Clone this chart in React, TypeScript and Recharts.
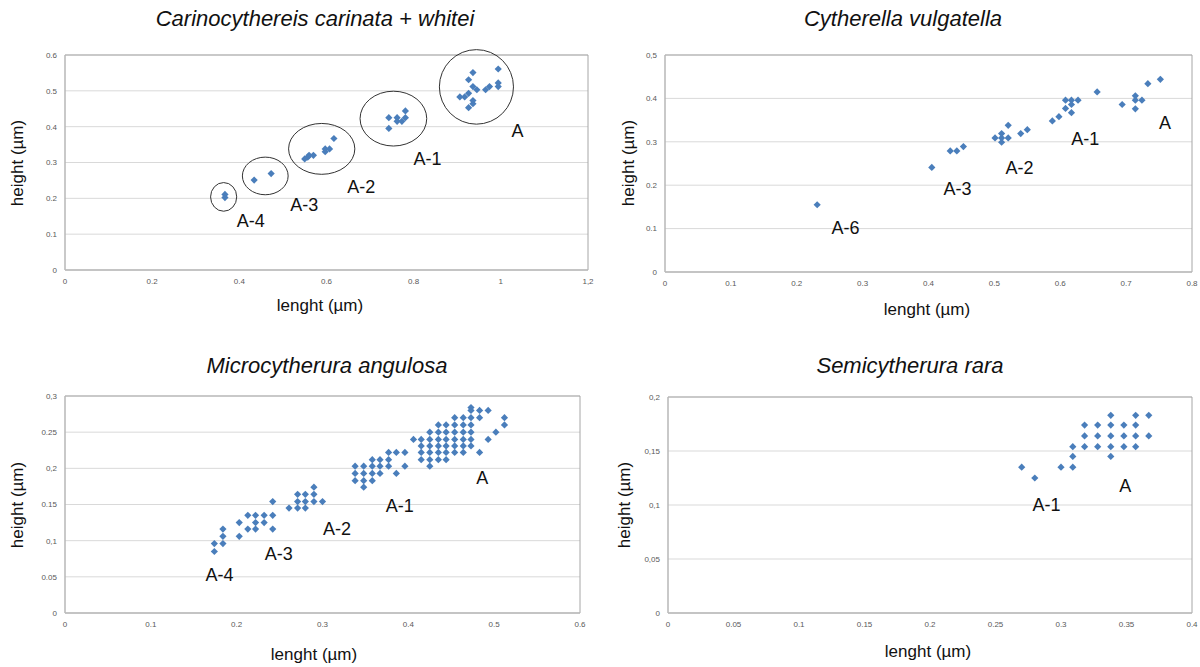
import React from 'react';
import { ScatterChart, Scatter, XAxis, YAxis, CartesianGrid, ReferenceArea } from 'recharts';

// ---- data ----

const titles = ['Carinocythereis carinata + whitei', 'Cytherella vulgatella', 'Microcytherura angulosa', 'Semicytherura rara'];
const xAxisTitle = 'lenght (µm)';
const yAxisTitle = 'height (µm)';

const carinataPoints = [
    [0.367, 0.211], [0.367, 0.202],
    [0.434, 0.251], [0.473, 0.269],
    [0.55, 0.31], [0.557, 0.315], [0.56, 0.32], [0.57, 0.32], [0.597, 0.33], [0.597, 0.338], [0.607, 0.338], [0.617, 0.367],
    [0.743, 0.425], [0.743, 0.395], [0.762, 0.425], [0.762, 0.415], [0.773, 0.415], [0.781, 0.425], [0.781, 0.444],
    [0.906, 0.483], [0.917, 0.483], [0.926, 0.493], [0.926, 0.531], [0.936, 0.551], [0.936, 0.512], [0.945, 0.503],
    [0.926, 0.453], [0.936, 0.464], [0.936, 0.473], [0.965, 0.503], [0.974, 0.512], [0.994, 0.561], [0.994, 0.522], [0.994, 0.512],
];
const carinataRings = [
    { x1: 0.334, x2: 0.394, y1: 0.164, y2: 0.244 },
    { x1: 0.407, x2: 0.512, y1: 0.21, y2: 0.315 },
    { x1: 0.513, x2: 0.665, y1: 0.267, y2: 0.409 },
    { x1: 0.677, x2: 0.83, y1: 0.346, y2: 0.499 },
    { x1: 0.859, x2: 1.029, y1: 0.407, y2: 0.615 },
];
const carinataLabels = [
    { x: 0.426, y: 0.138, text: 'A-4' },
    { x: 0.549, y: 0.182, text: 'A-3' },
    { x: 0.68, y: 0.232, text: 'A-2' },
    { x: 0.832, y: 0.311, text: 'A-1' },
    { x: 1.038, y: 0.387, text: 'A' },
];
const carinataXTicks = [0, 0.2, 0.4, 0.6, 0.8, 1, 1.2];
const carinataXTickLabels = ['0', '0.2', '0.4', '0.6', '0.8', '1', '1,2'];
const carinataYTicks = [0, 0.1, 0.2, 0.3, 0.4, 0.5, 0.6];
const carinataYTickLabels = ['0', '0.1', '0.2', '0.3', '0.4', '0.5', '0.6'];

const vulgatellaPoints = [
    [0.231, 0.155], [0.405, 0.241], [0.433, 0.279], [0.443, 0.279], [0.453, 0.289],
    [0.501, 0.309], [0.511, 0.299], [0.511, 0.309], [0.511, 0.319], [0.521, 0.309], [0.521, 0.338],
    [0.54, 0.319], [0.55, 0.328], [0.588, 0.348], [0.598, 0.358], [0.608, 0.377], [0.608, 0.396],
    [0.617, 0.396], [0.617, 0.386], [0.617, 0.367], [0.627, 0.396], [0.656, 0.415], [0.694, 0.386],
    [0.714, 0.376], [0.714, 0.396], [0.714, 0.406], [0.724, 0.396], [0.733, 0.434], [0.752, 0.444],
];
const vulgatellaLabels = [
    { x: 0.274, y: 0.101, text: 'A-6' },
    { x: 0.444, y: 0.191, text: 'A-3' },
    { x: 0.538, y: 0.239, text: 'A-2' },
    { x: 0.638, y: 0.306, text: 'A-1' },
    { x: 0.759, y: 0.344, text: 'A' },
];
const vulgatellaXTicks = [0, 0.1, 0.2, 0.3, 0.4, 0.5, 0.6, 0.7, 0.8];
const vulgatellaXTickLabels = ['0', '0.1', '0.2', '0.3', '0.4', '0.5', '0.6', '0.7', '0.8'];
const vulgatellaYTicks = [0, 0.1, 0.2, 0.3, 0.4, 0.5];
const vulgatellaYTickLabels = ['0', '0.1', '0.2', '0.3', '0.4', '0,5'];

const angulosaPoints = [
    [0.174, 0.096], [0.174, 0.085],
    [0.184, 0.116], [0.184, 0.106], [0.184, 0.096],
    [0.203, 0.125], [0.203, 0.106],
    [0.213, 0.135], [0.213, 0.116],
    [0.222, 0.135], [0.222, 0.125], [0.222, 0.116],
    [0.232, 0.135], [0.232, 0.125],
    [0.242, 0.154], [0.242, 0.135], [0.242, 0.116],
    [0.261, 0.145],
    [0.271, 0.164], [0.271, 0.154], [0.271, 0.145],
    [0.28, 0.164], [0.28, 0.154], [0.28, 0.145],
    [0.29, 0.174], [0.29, 0.164], [0.29, 0.154],
    [0.3, 0.154],
    [0.338, 0.203], [0.338, 0.193], [0.338, 0.183],
    [0.348, 0.203], [0.348, 0.193], [0.348, 0.183], [0.348, 0.174],
    [0.358, 0.212], [0.358, 0.203], [0.358, 0.193], [0.358, 0.183],
    [0.367, 0.212], [0.367, 0.203], [0.367, 0.193],
    [0.377, 0.222], [0.377, 0.212], [0.377, 0.203],
    [0.386, 0.222], [0.386, 0.193],
    [0.396, 0.222], [0.396, 0.203],
    [0.406, 0.24],
    [0.415, 0.24], [0.415, 0.231], [0.415, 0.222], [0.415, 0.212],
    [0.425, 0.25], [0.425, 0.24], [0.425, 0.231], [0.425, 0.222], [0.425, 0.212], [0.425, 0.203],
    [0.435, 0.26], [0.435, 0.25], [0.435, 0.24], [0.435, 0.231], [0.435, 0.222], [0.435, 0.212],
    [0.444, 0.26], [0.444, 0.25], [0.444, 0.24], [0.444, 0.231], [0.444, 0.222], [0.444, 0.212],
    [0.454, 0.27], [0.454, 0.26], [0.454, 0.25], [0.454, 0.24], [0.454, 0.231], [0.454, 0.222],
    [0.464, 0.27], [0.464, 0.26], [0.464, 0.25], [0.464, 0.24], [0.464, 0.231], [0.464, 0.222],
    [0.473, 0.284], [0.473, 0.28], [0.473, 0.27], [0.473, 0.26], [0.473, 0.25], [0.473, 0.24], [0.473, 0.231],
    [0.483, 0.28], [0.483, 0.27], [0.483, 0.222],
    [0.493, 0.28], [0.493, 0.24],
    [0.502, 0.25],
    [0.512, 0.27], [0.512, 0.26],
];
const angulosaLabels = [
    { x: 0.18, y: 0.053, text: 'A-4' },
    { x: 0.249, y: 0.082, text: 'A-3' },
    { x: 0.317, y: 0.116, text: 'A-2' },
    { x: 0.39, y: 0.148, text: 'A-1' },
    { x: 0.486, y: 0.186, text: 'A' },
];
const angulosaXTicks = [0, 0.1, 0.2, 0.3, 0.4, 0.5, 0.6];
const angulosaXTickLabels = ['0', '0.1', '0.2', '0.3', '0.4', '0.5', '0.6'];
const angulosaYTicks = [0, 0.05, 0.1, 0.15, 0.2, 0.25, 0.3];
const angulosaYTickLabels = ['0', '0.05', '0,1', '0.15', '0,2', '0.25', '0,3'];

const raraPoints = [
    [0.27, 0.135], [0.28, 0.125], [0.3, 0.135],
    [0.309, 0.135], [0.309, 0.145], [0.309, 0.154],
    [0.318, 0.154], [0.318, 0.164], [0.318, 0.174],
    [0.328, 0.154], [0.328, 0.164], [0.328, 0.174],
    [0.338, 0.145], [0.338, 0.154], [0.338, 0.164], [0.338, 0.174], [0.338, 0.183],
    [0.348, 0.154], [0.348, 0.164], [0.348, 0.174],
    [0.357, 0.154], [0.357, 0.164], [0.357, 0.174], [0.357, 0.183],
    [0.367, 0.164], [0.367, 0.183],
];
const raraLabels = [
    { x: 0.289, y: 0.1, text: 'A-1' },
    { x: 0.349, y: 0.118, text: 'A' },
];
const raraXTicks = [0, 0.05, 0.1, 0.15, 0.2, 0.25, 0.3, 0.35, 0.4];
const raraXTickLabels = ['0', '0.05', '0.1', '0.15', '0.2', '0.25', '0.3', '0.35', '0.4'];
const raraYTicks = [0, 0.05, 0.1, 0.15, 0.2];
const raraYTickLabels = ['0', '0,05', '0,1', '0,15', '0,2'];

// ---- drawing ----

const FONT = '"Liberation Sans", Arial, sans-serif';
const BLUE = '#4a7ebb';

const Diamond = (props: any) => {
    const { cx, cy } = props;
    if (cx == null || cy == null) return null;
    const r = 3.6;
    return <path d={`M${cx},${cy - r}L${cx + r},${cy}L${cx},${cy + r}L${cx - r},${cy}Z`} fill={BLUE} />;
};

const GroupText = (props: any) => {
    const { cx, cy, payload } = props;
    if (cx == null || cy == null) return null;
    return (
        <text x={cx} y={cy} textAnchor="middle" dominantBaseline="central" fontSize={18} fontFamily={FONT} fill="#111">
            {payload.text}
        </text>
    );
};

const Ring = (props: any) => {
    const { x, y, width, height } = props;
    return <ellipse cx={x + width / 2} cy={y + height / 2} rx={Math.abs(width) / 2} ry={Math.abs(height) / 2} fill="none" stroke="#333" strokeWidth={1} />;
};

interface PanelProps {
    left: number;
    top: number;
    width: number;
    height: number;
    margin: { top: number; right: number; bottom: number; left: number };
    points: number[][];
    labels: { x: number; y: number; text: string }[];
    rings?: { x1: number; x2: number; y1: number; y2: number }[];
    xTicks: number[];
    xTickLabels: string[];
    yTicks: number[];
    yTickLabels: string[];
}

function Panel({ left, top, width, height, margin, points, labels, rings = [], xTicks, xTickLabels, yTicks, yTickLabels }: PanelProps) {
    const data = points.map(([x, y]) => ({ x, y }));
    const xMax = xTicks[xTicks.length - 1];
    const yMax = yTicks[yTicks.length - 1];
    const tickStyle = { fontSize: 8, fill: '#595959', fontFamily: FONT };
    return (
        <div style={{ position: 'absolute', left, top, width, height }}>
            <ScatterChart width={width} height={height} margin={margin}>
                <CartesianGrid vertical={false} stroke="#d9d9d9" />
                <XAxis
                    type="number"
                    dataKey="x"
                    domain={[0, xMax]}
                    ticks={xTicks}
                    tickFormatter={(v: number) => xTickLabels[xTicks.indexOf(v)] ?? String(v)}
                    interval={0}
                    tick={tickStyle}
                    tickLine={false}
                    axisLine={{ stroke: '#bfbfbf' }}
                    height={30}
                    allowDataOverflow
                />
                <YAxis
                    type="number"
                    dataKey="y"
                    domain={[0, yMax]}
                    ticks={yTicks}
                    tickFormatter={(v: number) => yTickLabels[yTicks.indexOf(v)] ?? String(v)}
                    interval={0}
                    tick={tickStyle}
                    tickLine={false}
                    axisLine={{ stroke: '#bfbfbf' }}
                    width={40}
                    allowDataOverflow
                />
                <ReferenceArea x1={0} x2={xMax} y1={0} y2={yMax} fill="none" stroke="#a6a6a6" fillOpacity={0} />
                {rings.map((r, i) => (
                    <ReferenceArea key={i} x1={r.x1} x2={r.x2} y1={r.y1} y2={r.y2} ifOverflow="visible" shape={Ring} />
                ))}
                <Scatter data={data} shape={Diamond} isAnimationActive={false} />
                <Scatter data={labels} shape={GroupText} isAnimationActive={false} />
            </ScatterChart>
        </div>
    );
}

const titleStyle: React.CSSProperties = {
    position: 'absolute',
    transform: 'translate(-50%, -50%)',
    fontFamily: FONT,
    fontStyle: 'italic',
    fontSize: 22,
    color: '#111',
    whiteSpace: 'nowrap',
};
const axisTitleStyle: React.CSSProperties = {
    position: 'absolute',
    fontFamily: FONT,
    fontSize: 17,
    color: '#111',
    whiteSpace: 'nowrap',
};

function XTitle({ x, y }: { x: number; y: number }) {
    return <div style={{ ...axisTitleStyle, left: x, top: y, transform: 'translate(-50%, -50%)' }}>{xAxisTitle}</div>;
}
function YTitle({ x, y }: { x: number; y: number }) {
    return <div style={{ ...axisTitleStyle, left: x, top: y, transform: 'translate(-50%, -50%) rotate(-90deg)' }}>{yAxisTitle}</div>;
}

export default function App() {
    return (
        <div style={{ position: 'absolute', left: 0, top: 0, width: 1200, height: 667, background: '#fff', overflow: 'hidden' }}>
            <Panel
                left={0} top={0} width={600} height={330}
                margin={{ top: 55, right: 12, bottom: 30, left: 25 }}
                points={carinataPoints} labels={carinataLabels} rings={carinataRings}
                xTicks={carinataXTicks} xTickLabels={carinataXTickLabels}
                yTicks={carinataYTicks} yTickLabels={carinataYTickLabels}
            />
            <Panel
                left={600} top={0} width={600} height={330}
                margin={{ top: 55, right: 8, bottom: 28, left: 25 }}
                points={vulgatellaPoints} labels={vulgatellaLabels}
                xTicks={vulgatellaXTicks} xTickLabels={vulgatellaXTickLabels}
                yTicks={vulgatellaYTicks} yTickLabels={vulgatellaYTickLabels}
            />
            <Panel
                left={0} top={335} width={600} height={332}
                margin={{ top: 61, right: 20, bottom: 24, left: 25 }}
                points={angulosaPoints} labels={angulosaLabels}
                xTicks={angulosaXTicks} xTickLabels={angulosaXTickLabels}
                yTicks={angulosaYTicks} yTickLabels={angulosaYTickLabels}
            />
            <Panel
                left={600} top={335} width={600} height={332}
                margin={{ top: 62, right: 8, bottom: 24, left: 28 }}
                points={raraPoints} labels={raraLabels}
                xTicks={raraXTicks} xTickLabels={raraXTickLabels}
                yTicks={raraYTicks} yTickLabels={raraYTickLabels}
            />

            <div style={{ ...titleStyle, left: 315, top: 19 }}>{titles[0]}</div>
            <div style={{ ...titleStyle, left: 903, top: 19 }}>{titles[1]}</div>
            <div style={{ ...titleStyle, left: 327, top: 366 }}>{titles[2]}</div>
            <div style={{ ...titleStyle, left: 910, top: 366 }}>{titles[3]}</div>

            <XTitle x={320} y={306} />
            <XTitle x={927} y={310} />
            <XTitle x={314} y={655} />
            <XTitle x={928} y={652} />

            <YTitle x={18} y={163} />
            <YTitle x={629} y={163} />
            <YTitle x={18} y={505} />
            <YTitle x={625} y={505} />
        </div>
    );
}
